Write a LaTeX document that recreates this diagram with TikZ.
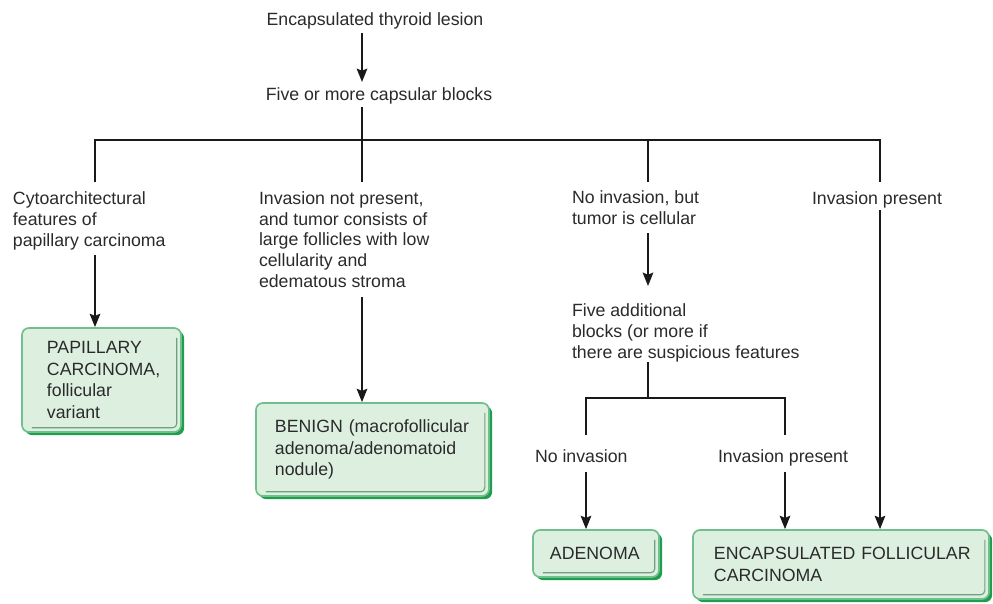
\documentclass[tikz,border=0pt]{standalone}
\usepackage{fontspec}
\setmainfont{Liberation Sans}
\usetikzlibrary{arrows.meta,shadows}
\definecolor{txt}{HTML}{2A2A2A}
\definecolor{boxfill}{HTML}{DDF0E0}
\definecolor{boxdraw}{HTML}{6FC08C}
\definecolor{boxshadow}{HTML}{1E9E4E}
\definecolor{boxinner}{HTML}{6F9F80}
\begin{document}
\begin{tikzpicture}[x=0.025cm,y=-0.025cm,
  every node/.style={text=txt},
  lbl/.style={inner sep=0pt, outer sep=0pt, align=left, font=\fontsize{12.6}{14.6}\selectfont},
  conn/.style={line width=1.3pt, draw=black!90},
  arr/.style={conn, -{Stealth[length=9.5pt,width=7.5pt,inset=1.5pt]}},
  box/.style={draw=boxdraw, line width=1.2pt, fill=boxfill, rounded corners=5pt,
    align=left, inner ysep=0pt, font=\fontsize{12.6}{15.2}\selectfont,
    drop shadow={shadow xshift=2.2pt, shadow yshift=-2.2pt, fill=boxshadow, opacity=1},
    path picture={\draw[boxinner, line width=0.8pt, rounded corners=3pt]
      ([xshift=-3pt,yshift=-7pt]path picture bounding box.north east) --
      ([xshift=-3pt,yshift=3pt]path picture bounding box.south east) --
      ([xshift=7pt,yshift=3pt]path picture bounding box.south west);}}]
\useasboundingbox (0,0) rectangle (993,604);

% text labels (base anchor = baseline of the last line)
\node[lbl, anchor=base] (title) at (375,26) {Encapsulated thyroid lesion};
\node[lbl, anchor=base] (five) at (379,100) {Five or more capsular blocks};
\node[lbl, anchor=base west] (cyto) at (13,246) {Cytoarchitectural\\features of\\papillary carcinoma};
\node[lbl, anchor=base west] (inv) at (259,287) {Invasion not present,\\and tumor consists of\\large follicles with low\\cellularity and\\edematous stroma};
\node[lbl, anchor=base west] (cell) at (572,224.5) {No invasion, but\\tumor is cellular};
\node[lbl, anchor=base west] (invp) at (812,204) {Invasion present};
\node[lbl, anchor=base west] (addb) at (572,358) {Five additional\\blocks (or more if\\there are suspicious features};
\node[lbl, anchor=base west] (noinv) at (535,462) {No invasion};
\node[lbl, anchor=base west] (invp2) at (718,462) {Invasion present};

% result boxes
\node[box, minimum width=3.975cm, minimum height=2.6cm, inner xsep=0.625cm, text width=2.725cm] (pap) at (101.5,380)
  {\mbox{PAPILLARY}\\\mbox{CARCINOMA,}\\\mbox{follicular}\\\mbox{variant}};
\node[box, minimum width=5.825cm, minimum height=2.325cm, inner xsep=0.475cm, text width=4.875cm] (benign) at (372.5,449.5)
  {\mbox{BENIGN (macrofollicular}\\\mbox{adenoma/adenomatoid}\\\mbox{nodule)}};
\node[box, minimum width=3.15cm, minimum height=1.175cm, inner xsep=0.425cm, text width=2.3cm] (aden) at (596,553.5)
  {\mbox{ADENOMA}};
\node[box, minimum width=7.4cm, minimum height=1.725cm, inner xsep=0.525cm, text width=6.35cm] (efc) at (841,564.5)
  {\mbox{ENCAPSULATED FOLLICULAR}\\\mbox{CARCINOMA}};

% junction coordinates
\coordinate (t1) at (362,33);
\coordinate (t2) at (362,82);
\coordinate (f1) at (362,107);
\coordinate (busL) at (95,140);
\coordinate (busR) at (880,140);
\coordinate (dL) at (95,182);
\coordinate (dC) at (362,182);
\coordinate (dM) at (648,182);
\coordinate (dR) at (880,182);
\coordinate (a1) at (95,255);
\coordinate (a2) at (362,297);
\coordinate (a3) at (648,233);
\coordinate (a3e) at (648,286);
\coordinate (m1) at (648,362);
\coordinate (m2) at (648,398);
\coordinate (b2L) at (586,398);
\coordinate (b2R) at (785,398);
\coordinate (e1) at (586,435);
\coordinate (e2) at (785,435);
\coordinate (a4) at (586,472);
\coordinate (a5) at (785,472);
\coordinate (a6) at (880,210);

% connectors
\draw[arr] (t1) -- (t2);
\draw[conn] (f1) -- (dC);
\draw[conn] (dL) -- (busL) -- (busR) -- (dR);
\draw[conn] (dM) -- (dM |- busL);
\draw[arr] (a1) -- (pap.north -| a1);
\draw[arr] (a2) -- (benign.north -| a2);
\draw[arr] (a3) -- (a3e);
\draw[conn] (m1) -- (m2);
\draw[conn] (e1) -- (b2L) -- (b2R) -- (e2);
\draw[arr] (a4) -- (aden.north -| a4);
\draw[arr] (a5) -- (efc.north -| a5);
\draw[arr] (a6) -- (efc.north -| a6);
\end{tikzpicture}
\end{document}
